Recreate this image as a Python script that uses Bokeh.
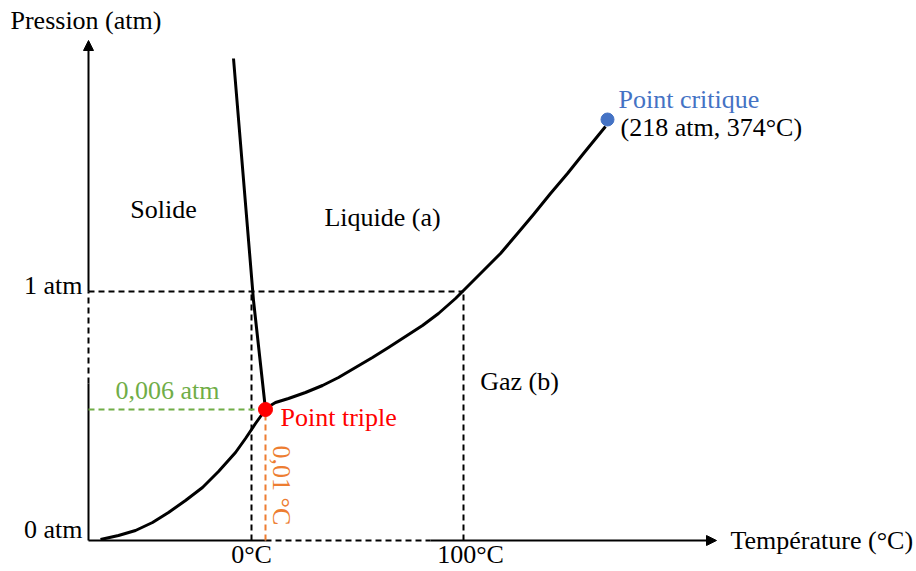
from bokeh.plotting import figure
from bokeh.models import Range1d, Arrow, NormalHead
from bokeh.core.properties import value
from bokeh.embed import file_html
from bokeh.resources import INLINE

# Schematic phase diagram of water (diagram units: x = temperature axis, y = pressure axis)
sub_T = [100, 118, 135, 152, 168, 185, 202, 218, 235, 245, 255, 265]
sub_P = [32, 36, 41, 49, 59, 71, 84, 100, 119, 133, 148, 162]
vap_T = [265, 275, 288, 305, 322, 338, 355, 372, 388, 405, 422, 438, 455, 463,
         483, 500, 517, 533, 550, 567, 583, 605]
vap_P = [163, 169, 173, 179, 186, 194, 204, 214, 224, 235, 246, 258, 273, 281,
         301, 318, 338, 357, 378, 398, 418, 445]
fus_T = [233, 253, 265]
fus_P = [513, 271, 162]

origin_T, origin_P = 88, 31
axis_T_end, axis_P_end = 716, 531
T_0C, T_100C, T_triple = 251, 463, 265
P_1atm, P_triple = 280, 162
triple = (265, 162)
critical = (607, 452)

SERIF = value("Liberation Serif")
FS = "26px"

p = figure(width=916, height=571, output_backend="svg", toolbar_location=None,
           x_range=Range1d(0, 916), y_range=Range1d(0, 571), min_border=0)
p.axis.visible = False
p.grid.visible = False
p.outline_line_color = None

# axes
p.segment(x0=[origin_T], y0=[origin_P], x1=[T_triple], y1=[origin_P], line_color="black", line_width=2)
p.segment(x0=[T_triple], y0=[origin_P], x1=[430], y1=[origin_P], line_color="black", line_width=2, line_dash="6 4")
p.add_layout(Arrow(end=NormalHead(size=10, fill_color="black", line_color="black"),
                   x_start=430, y_start=origin_P, x_end=axis_T_end, y_end=origin_P,
                   line_color="black", line_width=2))
p.segment(x0=[origin_T], y0=[origin_P], x1=[origin_T], y1=[188], line_color="black", line_width=2)
p.segment(x0=[origin_T], y0=[188], x1=[origin_T], y1=[P_1atm], line_color="black", line_width=2, line_dash="6 4")
p.add_layout(Arrow(end=NormalHead(size=10, fill_color="black", line_color="black"),
                   x_start=origin_T, y_start=P_1atm, x_end=origin_T, y_end=axis_P_end,
                   line_color="black", line_width=2))

# reference dashed lines
p.line([origin_T, T_100C], [P_1atm, P_1atm], line_color="black", line_width=2, line_dash="6 4")
p.line([T_0C, T_0C], [origin_P, P_1atm], line_color="black", line_width=2, line_dash="6 4")
p.line([T_100C, T_100C], [origin_P, P_1atm], line_color="black", line_width=2, line_dash="6 4")
p.line([origin_T, triple[0]], [P_triple, P_triple], line_color="#70ad47", line_width=2, line_dash="6 4")
p.line([T_triple, T_triple], [origin_P, P_triple], line_color="#ed7d31", line_width=2, line_dash="6 4")

# phase boundaries
p.line(sub_T, sub_P, line_color="black", line_width=3, line_join="round")
p.line(vap_T, vap_P, line_color="black", line_width=3, line_join="round")
p.line(fus_T, fus_P, line_color="black", line_width=3, line_join="round")

p.scatter([triple[0]], [triple[1]], size=14, color="#ff0000")
p.scatter([critical[0]], [critical[1]], size=13, color="#4472c4")

def txt(x, y, s, color="black", align="left", baseline="alphabetic", angle=0.0, size=FS):
    p.text(x=[x], y=[y], text=[s], text_font=SERIF, text_font_size=size, text_color=color,
           text_align=align, text_baseline=baseline, angle=angle)

txt(10, 551, "Pression (atm)")
txt(730, 31, "Température (°C)")
txt(82, 286, "1 atm", align="right")
txt(82, 42, "0 atm", align="right")
txt(T_0C, 17, "0°C", align="center")
txt(470, 17, "100°C", align="center")
txt(163, 362, "Solide", align="center")
txt(382, 354, "Liquide (a)", align="center")
txt(519, 190, "Gaz (b)", align="center")
txt(115, 181, "0,006 atm", color="#70ad47")
txt(280, 154, "Point triple", color="#ff0000")
txt(618, 472, "Point critique", color="#4472c4")
txt(620, 444, "(218 atm, 374°C)")
txt(281, 126, "0,01 °C", color="#ed7d31", baseline="middle", angle=-1.5708)

open("out.html", "w").write(file_html(p, INLINE))
